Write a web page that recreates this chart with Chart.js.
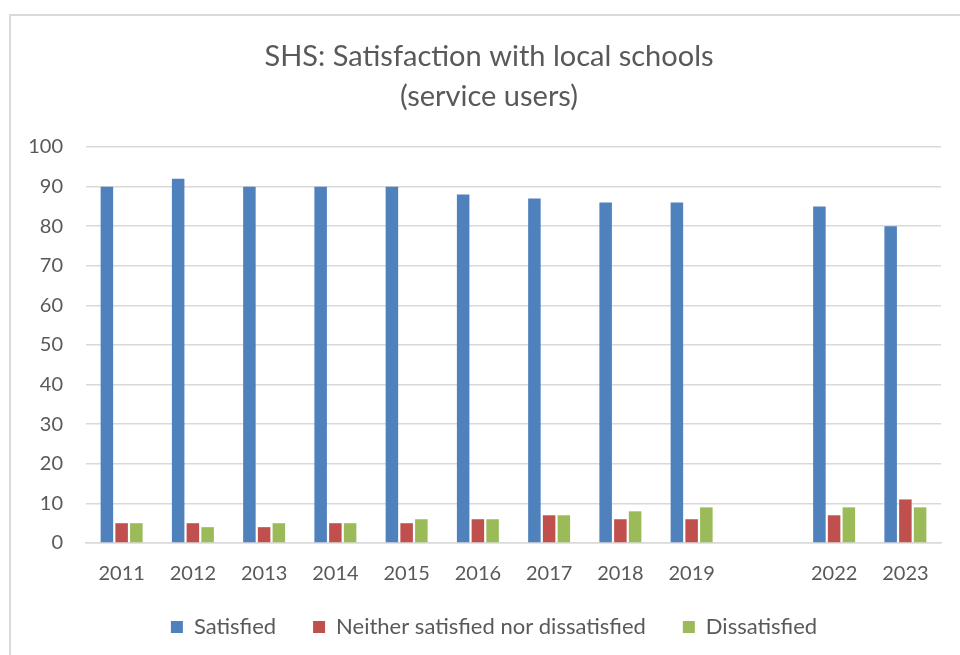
<!DOCTYPE html>
<html>
<head>
<meta charset="utf-8">
<script src="https://cdn.jsdelivr.net/npm/chart.js@4.4.1/dist/chart.umd.min.js"></script>
<style>
  html, body { margin: 0; padding: 0; background: #ffffff; overflow: hidden; width: 960px; height: 655px; }
  #frame { position: absolute; left: 9px; top: 14px; width: 960px; height: 660px;
           border-left: 2px solid #d9d9d9; border-top: 2px solid #d9d9d9; }
  #wrap { position: absolute; left: 0; top: 0; width: 960px; height: 640px; }
</style>
</head>
<body>
<div id="frame"><div id="wrap"><canvas id="c"></canvas></div></div>
<script>
const categories = ['2011', '2012', '2013', '2014', '2015', '2016', '2017', '2018', '2019', '', '2022', '2023'];
const satisfied = [90, 92, 90, 90, 90, 88, 87, 86, 86, null, 85, 80];
const neither = [5, 5, 4, 5, 5, 6, 7, 6, 6, null, 7, 11];
const dissatisfied = [5, 4, 5, 5, 6, 6, 7, 8, 9, null, 9, 9];
const seriesNames = ['Satisfied', 'Neither satisfied nor dissatisfied', 'Dissatisfied'];
const titleLines = ['SHS: Satisfaction with local schools', '(service users)'];
const yTicks = [0, 10, 20, 30, 40, 50, 60, 70, 80, 90, 100];

const FONT = 'Lato, "Open Sans", sans-serif';
const TXT = '#595959';
const GRID = '#d9d9d9';

const boxShift = {
  id: 'boxShift',
  afterLayout(chart) {
    const lg = chart.legend;
    if (lg) { lg.top -= 26; lg.left += 18; lg.right += 18; }
    const tb = chart.titleBlock;
    if (tb) { tb.left += 13; tb.right += 13; }
  }
};

new Chart(document.getElementById('c'), {
  type: 'bar',
  data: {
    labels: categories,
    datasets: [
      { label: seriesNames[0], data: satisfied, backgroundColor: '#4F81BD' },
      { label: seriesNames[1], data: neither, backgroundColor: '#C0504D' },
      { label: seriesNames[2], data: dissatisfied, backgroundColor: '#9BBB59' }
    ]
  },
  plugins: [boxShift],
  options: {
    responsive: true,
    maintainAspectRatio: false,
    animation: false,
    datasets: { bar: { categoryPercentage: 0.62, barPercentage: 0.85 } },
    layout: { padding: { left: 0, right: 30, top: 0, bottom: 0 } },
    plugins: {
      tooltip: { enabled: false },
      title: {
        display: true,
        text: titleLines,
        color: TXT,
        font: { family: FONT, size: 29, weight: 'normal', lineHeight: 1.38 },
        padding: { top: 21, bottom: 30 }
      },
      legend: {
        position: 'bottom',
        maxHeight: 51,
        labels: {
          color: TXT,
          font: { family: FONT, size: 22 },
          boxWidth: 12,
          boxHeight: 12,
          padding: 37
        }
      }
    },
    scales: {
      x: {
        grid: { display: false, drawTicks: false },
        border: { display: true, color: GRID, width: 1.5 },
        ticks: { color: TXT, font: { family: FONT, size: 20 }, padding: 19, maxRotation: 0, autoSkip: false }
      },
      y: {
        min: 0, max: 100,
        afterFit: (s) => { s.width = 75; },
        afterBuildTicks: (s) => { s.ticks = yTicks.map(v => ({ value: v })); },
        grid: { color: GRID, lineWidth: 1.5, drawTicks: false },
        border: { display: false },
        ticks: { color: TXT, font: { family: FONT, size: 20 }, padding: 23 }
      }
    }
  }
});
</script>
</body>
</html>
